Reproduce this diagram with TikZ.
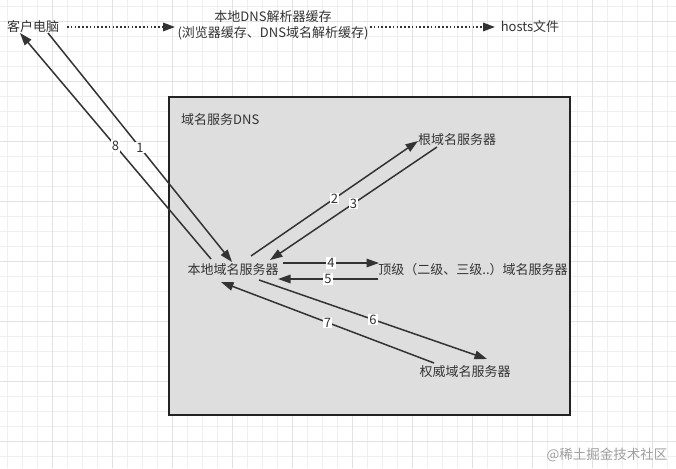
\documentclass[tikz,border=0pt]{standalone}
\usepackage{fontspec}
\setmainfont{Noto Sans CJK SC}
\usetikzlibrary{arrows.meta}
\definecolor{ln}{HTML}{333333}
\definecolor{txt}{HTML}{333333}
\definecolor{boxfill}{HTML}{DEDEDE}
\definecolor{boxline}{HTML}{222222}
\definecolor{gminor}{HTML}{EFEFEF}
\definecolor{gmajor}{HTML}{E2E2E2}
\tikzset{
  lbl/.style={text=txt, inner sep=2pt, font=\fontsize{13}{16}\selectfont},
  num/.style={fill=white, text=txt, inner sep=1pt, font=\fontsize{13}{13}\selectfont},
  arr/.style={draw=ln, line width=1.5pt, -{Triangle[length=12.5pt,width=8.5pt]}},
  dotarr/.style={draw=ln, line width=1.6pt, dash pattern=on 1.6pt off 2.2pt, -{Triangle[length=12pt,width=8.5pt]}},
  minorgrid/.style={draw=gminor, line width=0.8pt},
  majorgrid/.style={draw=gmajor, line width=0.9pt},
}
\begin{document}
\begin{tikzpicture}[x=1pt,y=-1pt]
\useasboundingbox (0,0) rectangle (676,468);
\fill[white] (0,0) rectangle (676,468);
\foreach \x in {7,22,...,667} \draw[minorgrid] (\x,0) -- (\x,468);
\foreach \y in {6,21,...,466} \draw[minorgrid] (0,\y) -- (676,\y);
\foreach \x in {52,112,...,652} \draw[majorgrid] (\x,0) -- (\x,468);
\foreach \y in {21,81,...,441} \draw[majorgrid] (0,\y) -- (676,\y);

% DNS box
\draw[boxline, fill=boxfill, line width=2pt] (168.5,97) rectangle (570,415);
\node[lbl, anchor=west] (dnslabel) at (179,120) {域名服务DNS};

% top row
\node[lbl] (client) at (33,27) {客户电脑};
\node[lbl, align=center] (cache) at (273,25) {本地DNS解析器缓存\\(浏览器缓存、DNS域名解析缓存)};
\node[lbl] (hosts) at (530,27) {hosts文件};

\draw[dotarr] ([shift={(34,0)}]client.center) -- ([shift={(-98,2)}]cache.center);
\draw[dotarr] ([shift={(97,2)}]cache.center) -- ([shift={(-35,0)}]hosts.center);

% servers
\node[lbl] (local) at (233,270) {本地域名服务器};
\node[lbl] (root) at (457,140) {根域名服务器};
\node[lbl] (tld) at (473,270) {顶级（二级、三级..）域名服务器};
\node[lbl] (auth) at (465,372) {权威域名服务器};

% arrows
\draw[arr] ([shift={(15,6)}]client.center) -- node[num] {1} ([shift={(-1,-8)}]local.center);
\draw[arr] ([shift={(-22,-11)}]local.center) -- node[num] {8} ([shift={(-13,6)}]client.center);
\draw[arr] ([shift={(18,-14)}]local.center) -- node[num] {2} ([shift={(-39,1)}]root.center);
\draw[arr] ([shift={(-20,7)}]root.center) -- node[num] {3} ([shift={(37,-10)}]local.center);
\draw[arr] ([shift={(50,-7)}]local.center) -- node[num] {4} ([shift={(-94,-7)}]tld.center);
\draw[arr] ([shift={(-95,9)}]tld.center) -- node[num] {5} ([shift={(45,9)}]local.center);
\draw[arr] ([shift={(26,10)}]local.center) -- node[num] {6} ([shift={(22,-13)}]auth.center);
\draw[arr] ([shift={(-31,-9)}]auth.center) -- node[num] {7} ([shift={(-12,12)}]local.center);

% watermark
\node[text=black!38, inner sep=0pt, font=\fontsize{13.5}{14}\selectfont] (wm) at (607,455) {@稀土掘金技术社区};
\end{tikzpicture}
\end{document}
